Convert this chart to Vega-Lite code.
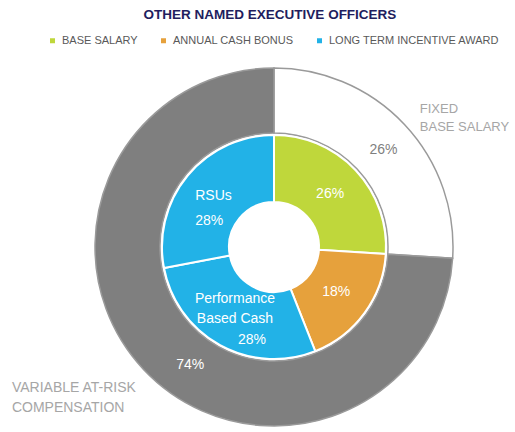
{
  "$schema": "https://vega.github.io/schema/vega-lite/v6.json",
  "autosize": {"type": "none"},
  "padding": {"left": 74, "right": 41, "top": 62, "bottom": 0},
  "width": 400,
  "height": 370,
  "background": "white",
  "title": {
    "text": "OTHER NAMED EXECUTIVE OFFICERS",
    "anchor": "middle",
    "frame": "group",
    "font": "Liberation Sans",
    "fontSize": 13.5,
    "fontWeight": "bold",
    "color": "#211d5e",
    "dx": -4,
    "dy": -10
  },
  "config": {
    "view": {"stroke": null},
    "font": "Liberation Sans",
    "legend": {
      "labelFont": "Liberation Sans",
      "labelFontSize": 11,
      "labelColor": "#595959",
      "labelLimit": 400,
      "symbolType": "square",
      "symbolSize": 25,
      "symbolStrokeWidth": 0,
      "columnPadding": 20,
      "labelOffset": 4,
      "padding": 0
    }
  },
  "datasets": {
    "inner": [
      {"component": "BASE SALARY", "name": "Base Salary", "pct": 26, "rank": 1, "label": "26%"},
      {"component": "ANNUAL CASH BONUS", "name": "Annual Cash Bonus", "pct": 18, "rank": 2, "label": "18%"},
      {"component": "LONG TERM INCENTIVE AWARD", "name": "Performance\nBased Cash", "pct": 28, "rank": 3, "label": "28%"},
      {"component": "LONG TERM INCENTIVE AWARD", "name": "RSUs", "pct": 28, "rank": 4, "label": "28%"}
    ],
    "outer": [
      {"part": "FIXED", "caption": "FIXED\nBASE SALARY", "pct": 26, "rank": 1, "label": "26%"},
      {"part": "VARIABLE", "caption": "VARIABLE AT-RISK\nCOMPENSATION", "pct": 74, "rank": 2, "label": "74%"}
    ]
  },
  "layer": [
    {
      "data": {"name": "outer"},
      "mark": {"type": "arc", "radius": 179, "radius2": 114, "stroke": "#9a9a9a", "strokeWidth": 1.5},
      "encoding": {
        "theta": {"field": "pct", "type": "quantitative", "stack": true},
        "order": {"field": "rank", "type": "quantitative"},
        "fill": {"condition": {"test": "datum.part === 'FIXED'", "value": "#ffffff"}, "value": "#7f7f7f"}
      }
    },
    {
      "data": {"name": "inner"},
      "mark": {"type": "arc", "radius": 112, "radius2": 45, "stroke": "#ffffff", "strokeWidth": 2},
      "encoding": {
        "theta": {"field": "pct", "type": "quantitative", "stack": true},
        "order": {"field": "rank", "type": "quantitative"},
        "color": {
          "field": "component",
          "type": "nominal",
          "scale": {
            "domain": ["BASE SALARY", "ANNUAL CASH BONUS", "LONG TERM INCENTIVE AWARD"],
            "range": ["#bfd73b", "#e6a13c", "#22b2e7"]
          },
          "legend": {"title": null, "orient": "none", "direction": "horizontal", "legendX": -27, "legendY": -27}
        }
      }
    },
    {
      "data": {"name": "inner"},
      "mark": {"type": "text", "radius": 77, "fill": "#ffffff", "fontSize": 14},
      "encoding": {
        "theta": {"field": "pct", "type": "quantitative", "stack": true},
        "order": {"field": "rank", "type": "quantitative"},
        "text": {"condition": {"test": "datum.rank <= 2", "field": "label"}, "value": ""}
      }
    },
    {
      "data": {"name": "inner"},
      "mark": {"type": "text", "radius": 75, "align": "left", "dx": -21, "dy": -3, "fill": "#ffffff", "fontSize": 14},
      "encoding": {
        "theta": {"field": "pct", "type": "quantitative", "stack": true},
        "order": {"field": "rank", "type": "quantitative"},
        "text": {"condition": {"test": "datum.rank === 4", "field": "name"}, "value": ""}
      }
    },
    {
      "data": {"name": "inner"},
      "mark": {"type": "text", "radius": 75, "align": "left", "dx": -21, "dy": 22, "fill": "#ffffff", "fontSize": 14},
      "encoding": {
        "theta": {"field": "pct", "type": "quantitative", "stack": true},
        "order": {"field": "rank", "type": "quantitative"},
        "text": {"condition": {"test": "datum.rank === 4", "field": "label"}, "value": ""}
      }
    },
    {
      "data": {"name": "inner"},
      "mark": {"type": "text", "radius": 81, "dy": -19, "lineBreak": "\n", "lineHeight": 20, "fill": "#ffffff", "fontSize": 14},
      "encoding": {
        "theta": {"field": "pct", "type": "quantitative", "stack": true},
        "order": {"field": "rank", "type": "quantitative"},
        "text": {"condition": {"test": "datum.rank === 3", "field": "name"}, "value": ""}
      }
    },
    {
      "data": {"name": "inner"},
      "mark": {"type": "text", "radius": 81, "dx": 17, "dy": 22, "fill": "#ffffff", "fontSize": 14},
      "encoding": {
        "theta": {"field": "pct", "type": "quantitative", "stack": true},
        "order": {"field": "rank", "type": "quantitative"},
        "text": {"condition": {"test": "datum.rank === 3", "field": "label"}, "value": ""}
      }
    },
    {
      "data": {"name": "outer"},
      "mark": {"type": "text", "radius": 146, "dx": 3, "dy": 3, "fill": "#7f7f7f", "fontSize": 14},
      "encoding": {
        "theta": {"field": "pct", "type": "quantitative", "stack": true},
        "order": {"field": "rank", "type": "quantitative"},
        "text": {"condition": {"test": "datum.rank === 1", "field": "label"}, "value": ""}
      }
    },
    {
      "data": {"name": "outer"},
      "mark": {"type": "text", "radius": 145, "dx": 22, "dy": 19, "fill": "#ffffff", "fontSize": 14},
      "encoding": {
        "theta": {"field": "pct", "type": "quantitative", "stack": true},
        "order": {"field": "rank", "type": "quantitative"},
        "text": {"condition": {"test": "datum.rank === 2", "field": "label"}, "value": ""}
      }
    },
    {
      "data": {"name": "outer"},
      "mark": {"type": "text", "radius": 200, "align": "left", "dy": -1, "lineBreak": "\n", "lineHeight": 18, "fill": "#a6a6a6", "fontSize": 13},
      "encoding": {
        "theta": {"field": "pct", "type": "quantitative", "stack": true},
        "order": {"field": "rank", "type": "quantitative"},
        "text": {"condition": {"test": "datum.rank === 1", "field": "caption"}, "value": ""}
      }
    },
    {
      "data": {"name": "outer"},
      "mark": {"type": "text", "radius": 210, "align": "left", "dx": -109, "dy": -3, "lineBreak": "\n", "lineHeight": 20, "fill": "#a6a6a6", "fontSize": 14},
      "encoding": {
        "theta": {"field": "pct", "type": "quantitative", "stack": true},
        "order": {"field": "rank", "type": "quantitative"},
        "text": {"condition": {"test": "datum.rank === 2", "field": "caption"}, "value": ""}
      }
    }
  ]
}
